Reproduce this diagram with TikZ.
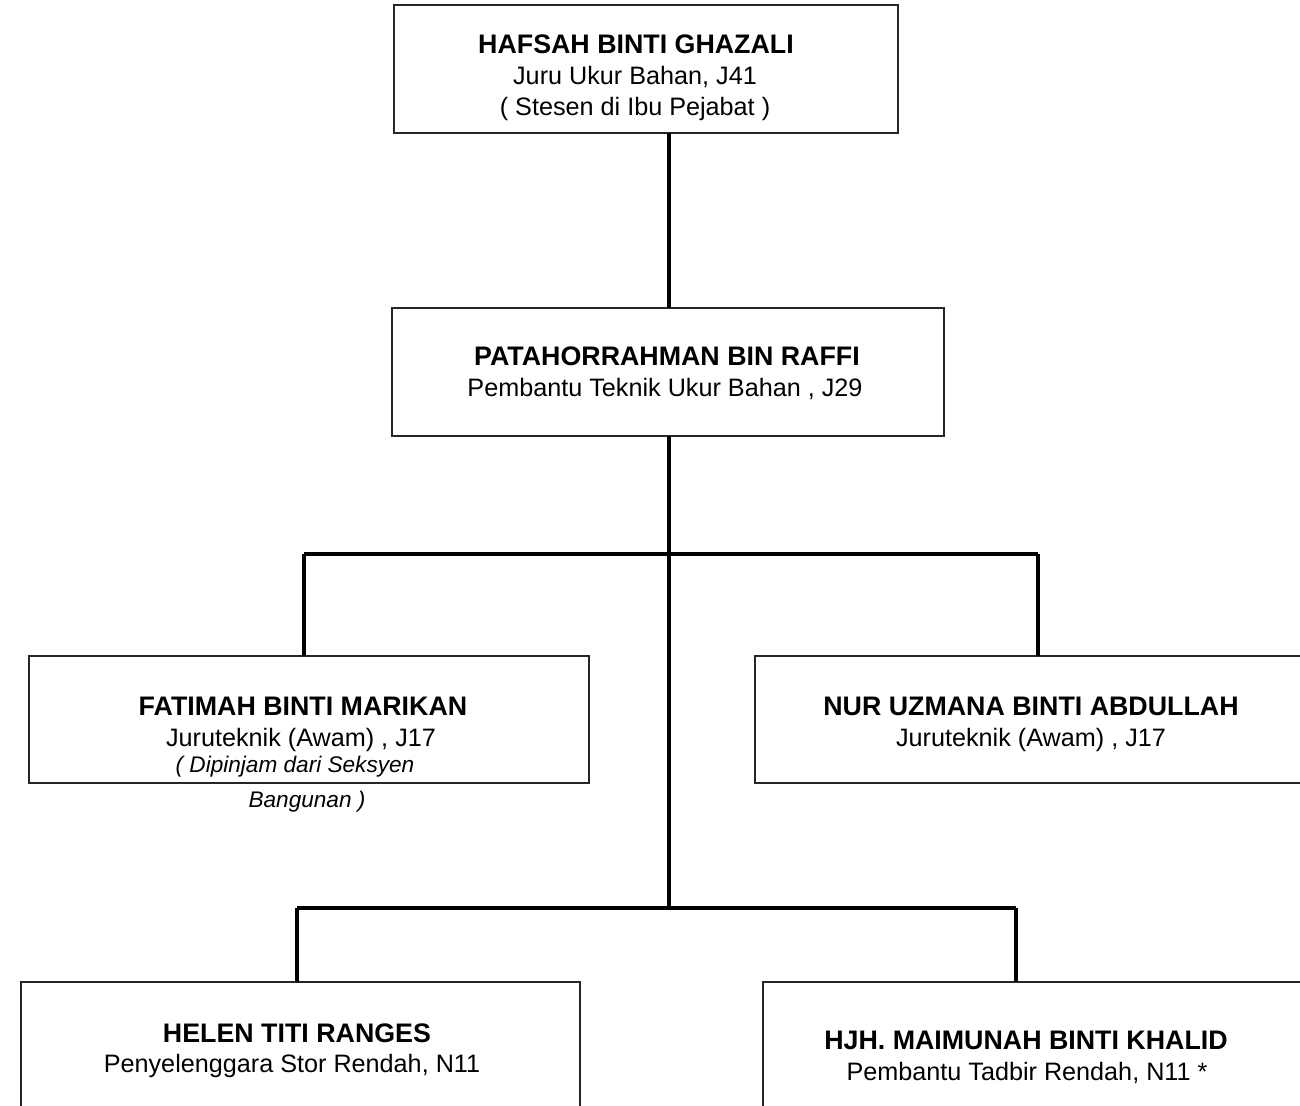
\documentclass[tikz,border=0pt]{standalone}
\usepackage{fontspec}
\setmainfont{Liberation Sans}
\begin{document}
\begin{tikzpicture}[x=0.5pt,y=-0.5pt,
  box/.style={draw=black!85,line width=0.8pt,inner sep=0pt,outer sep=0pt,rectangle},
  conn/.style={line width=2pt},
  pname/.style={font=\bfseries\fontsize{13.4}{15}\selectfont,anchor=base,inner sep=0pt},
  prole/.style={font=\fontsize{12.6}{15}\selectfont,anchor=base,inner sep=0pt},
  pnote/.style={font=\itshape\fontsize{11.3}{13}\selectfont,anchor=base,inner sep=0pt}]
\useasboundingbox[fill=white] (0,0) rectangle (1300,1106);
% boxes
\node[box,minimum width=252pt,minimum height=64pt] (top) at (646,69) {};
\node[box,minimum width=276pt,minimum height=64pt] (mid) at (668,372) {};
\node[box,minimum width=280pt,minimum height=63.5pt] (fat) at (309,719.5) {};
\node[box,minimum width=277.5pt,minimum height=63.5pt] (nur) at (1032.5,719.5) {};
\node[box,minimum width=279.5pt,minimum height=64pt] (hel) at (300.5,1046) {};
\node[box,minimum width=278.5pt,minimum height=64pt] (mai) at (1041.5,1046) {};
% texts
\node[pname] (topn) at (636,54) {HAFSAH BINTI GHAZALI};
\node[prole] (topr) at (635,85) {Juru Ukur Bahan, J41};
\node[prole] (tops) at (635,116) {( Stesen di Ibu Pejabat )};
\node[pname] (midn) at (667,366) {PATAHORRAHMAN BIN RAFFI};
\node[prole] (midr) at (665,397) {Pembantu Teknik Ukur Bahan , J29};
\node[pname] (fatn) at (303,715) {FATIMAH BINTI MARIKAN};
\node[prole] (fatr) at (301,746) {Juruteknik (Awam) , J17};
\node[pnote] (fats) at (295,772) {( Dipinjam dari Seksyen};
\node[pnote] (fatb) at (307,807) {Bangunan )};
\node[pname] (nurn) at (1031,715) {NUR UZMANA BINTI ABDULLAH};
\node[prole] (nurr) at (1031,746) {Juruteknik (Awam) , J17};
\node[pname] (heln) at (297,1042) {HELEN TITI RANGES};
\node[prole] (helr) at (292,1072) {Penyelenggara Stor Rendah, N11};
\node[pname] (main) at (1026,1049) {HJH. MAIMUNAH BINTI KHALID};
\node[prole] (mair) at (1027,1080) {Pembantu Tadbir Rendah, N11 *};
% junctions
\coordinate (j1) at (669,554);
\coordinate (j2) at (669,908);
\coordinate (l1) at (304,554);
\coordinate (r1) at (1038,554);
\coordinate (l2) at (297,908);
\coordinate (r2) at (1016,908);
% connectors
\draw[conn] (top.south -| j1) -- (mid.north -| j1);
\draw[conn] (mid.south -| j1) -- (j2);
\draw[conn] (l1) -- (r1);
\draw[conn] (l1) -- (fat.north -| l1);
\draw[conn] (r1) -- (nur.north -| r1);
\draw[conn] (l2) -- (r2);
\draw[conn] (l2) -- (hel.north -| l2);
\draw[conn] (r2) -- (mai.north -| r2);
\end{tikzpicture}
\end{document}
